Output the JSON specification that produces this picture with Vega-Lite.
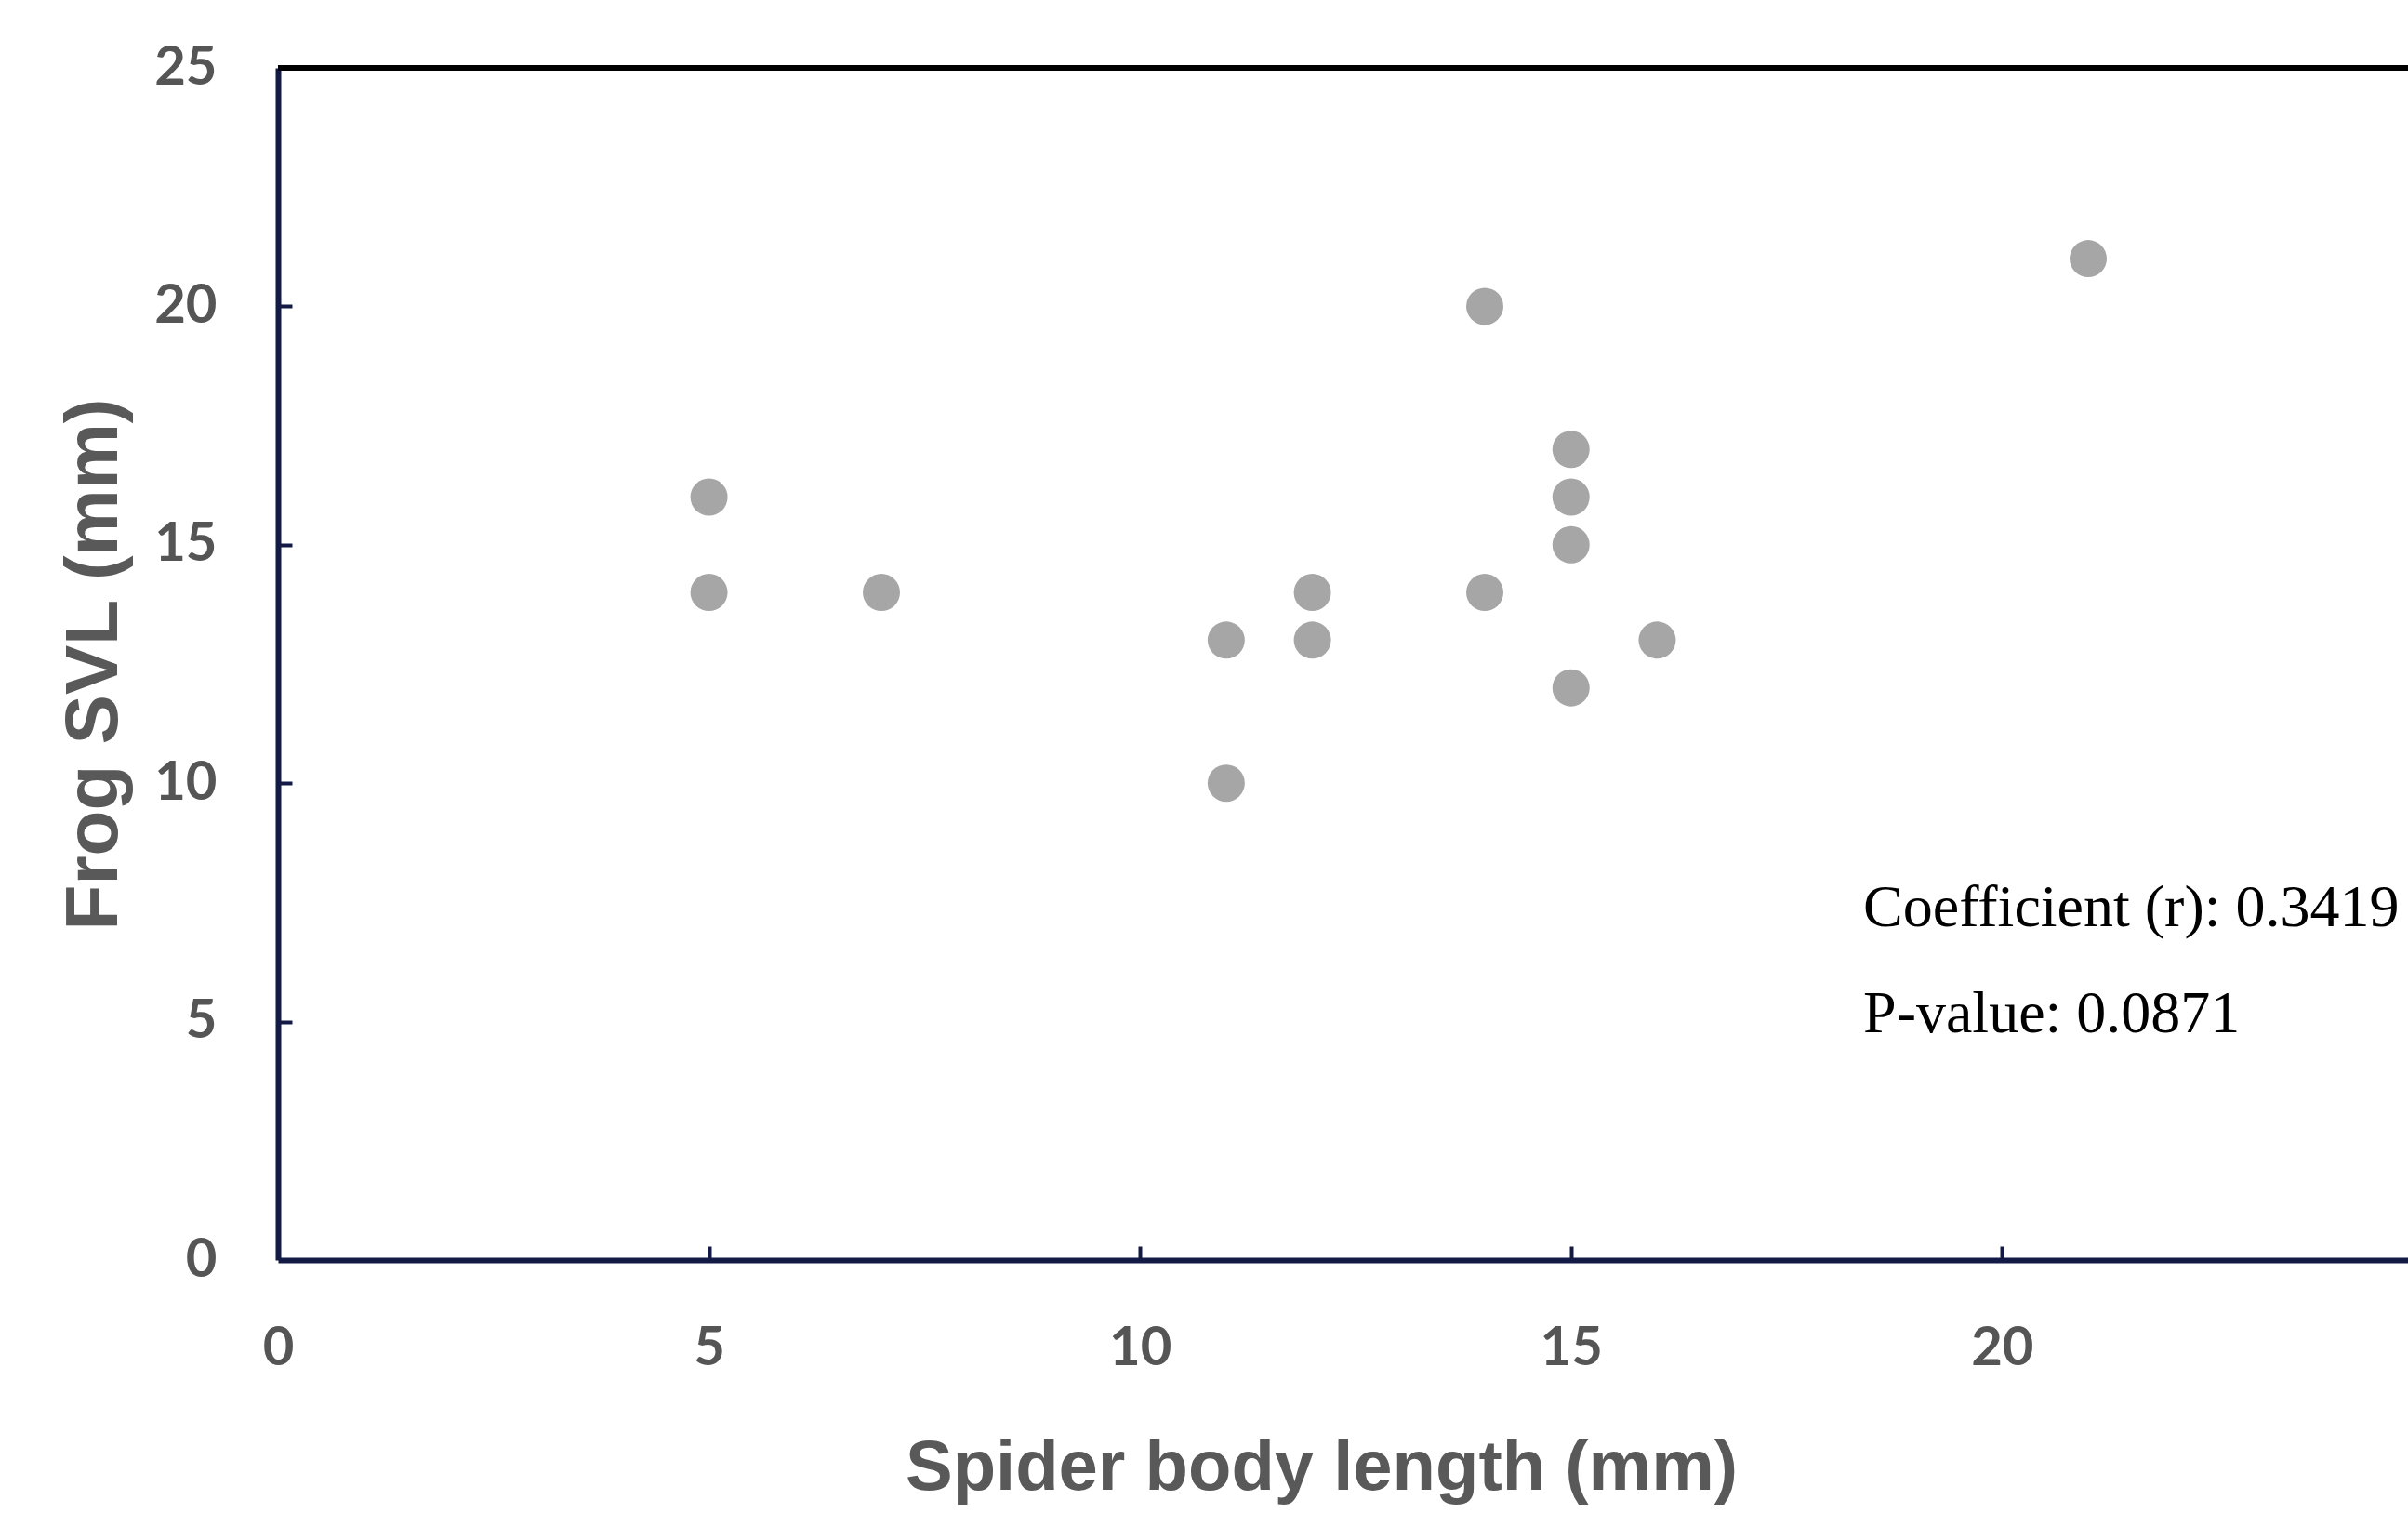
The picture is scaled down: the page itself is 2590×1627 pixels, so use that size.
{
  "$schema": "https://vega.github.io/schema/vega-lite/v6.json",
  "autosize": {"type": "none"},
  "padding": {"left": 299, "top": 73, "right": 0, "bottom": 272},
  "width": 2291,
  "height": 1282,
  "background": "white",
  "config": {
    "view": {"stroke": null},
    "axis": {"grid": false}
  },
  "resolve": {"axis": {"x": "independent", "y": "independent"}},
  "layer": [
    {
      "data": {"values": [{"edge": "top"}]},
      "mark": {"type": "rule", "color": "#000000", "strokeWidth": 6},
      "encoding": {"y": {"datum": 25, "type": "quantitative", "axis": null}}
    },
    {
      "data": {
        "values": [
          {"spider": 5, "frog": 16},
          {"spider": 5, "frog": 14},
          {"spider": 7, "frog": 14},
          {"spider": 11, "frog": 13},
          {"spider": 11, "frog": 10},
          {"spider": 12, "frog": 14},
          {"spider": 12, "frog": 13},
          {"spider": 14, "frog": 20},
          {"spider": 14, "frog": 14},
          {"spider": 15, "frog": 17},
          {"spider": 15, "frog": 16},
          {"spider": 15, "frog": 15},
          {"spider": 15, "frog": 12},
          {"spider": 16, "frog": 13},
          {"spider": 21, "frog": 21}
        ]
      },
      "mark": {"type": "point", "filled": true, "opacity": 1, "color": "#a6a6a6", "size": 1600},
      "encoding": {
        "x": {
          "field": "spider", "type": "quantitative",
          "scale": {"domain": [0, 24.71], "nice": false, "zero": false},
          "axis": {
            "orient": "bottom",
            "values": [0, 5, 10, 15, 20, 25], "format": "d",
            "title": "Spider body length (mm)",
            "domainColor": "#131a45", "domainWidth": 6, "ticks": false,
            "labelFont": "Lato", "labelFontWeight": "bold", "labelFontSize": 58, "labelColor": "#555555",
            "labelPadding": 66, "labelFlush": false, "labelOverlap": false,
            "titleFont": "Liberation Sans", "titleFontWeight": "bold", "titleFontSize": 76, "titleColor": "#595959",
            "titleX": 1122, "titleY": 223, "titleBaseline": "middle"
          }
        },
        "y": {
          "field": "frog", "type": "quantitative",
          "scale": {"domain": [0, 25], "nice": false},
          "axis": {
            "orient": "left",
            "values": [0, 5, 10, 15, 20, 25], "format": "d",
            "title": "Frog SVL (mm)",
            "domainColor": "#131a45", "domainWidth": 6, "ticks": false,
            "labelFont": "Lato", "labelFontWeight": "bold", "labelFontSize": 58, "labelColor": "#555555",
            "labelPadding": 66, "labelFlush": false, "labelOverlap": false,
            "titleFont": "Liberation Sans", "titleFontWeight": "bold", "titleFontSize": 80, "titleColor": "#595959",
            "titleX": -198, "titleY": 641, "titleBaseline": "middle", "titleAngle": 270
          }
        }
      }
    },
    {
      "data": {
        "values": [
          {"spider": 18.39, "frog": 7.0, "label": "Coefficient (r): 0.3419"},
          {"spider": 18.39, "frog": 4.77, "label": "P-value: 0.0871"}
        ]
      },
      "mark": {"type": "text", "align": "left", "baseline": "alphabetic", "font": "Liberation Serif", "fontSize": 64, "color": "#000000"},
      "encoding": {
        "x": {
          "field": "spider", "type": "quantitative",
          "axis": {
            "orient": "bottom",
            "values": [5, 10, 15, 20], "offset": -15, "tickSize": 15, "tickWidth": 4, "tickColor": "#131a45",
            "domain": false, "labels": false, "title": null, "grid": false
          }
        },
        "y": {
          "field": "frog", "type": "quantitative",
          "axis": {
            "orient": "left",
            "values": [5, 10, 15, 20], "offset": -15, "tickSize": 15, "tickWidth": 4, "tickColor": "#131a45",
            "domain": false, "labels": false, "title": null, "grid": false
          }
        },
        "text": {"field": "label"}
      }
    }
  ]
}
